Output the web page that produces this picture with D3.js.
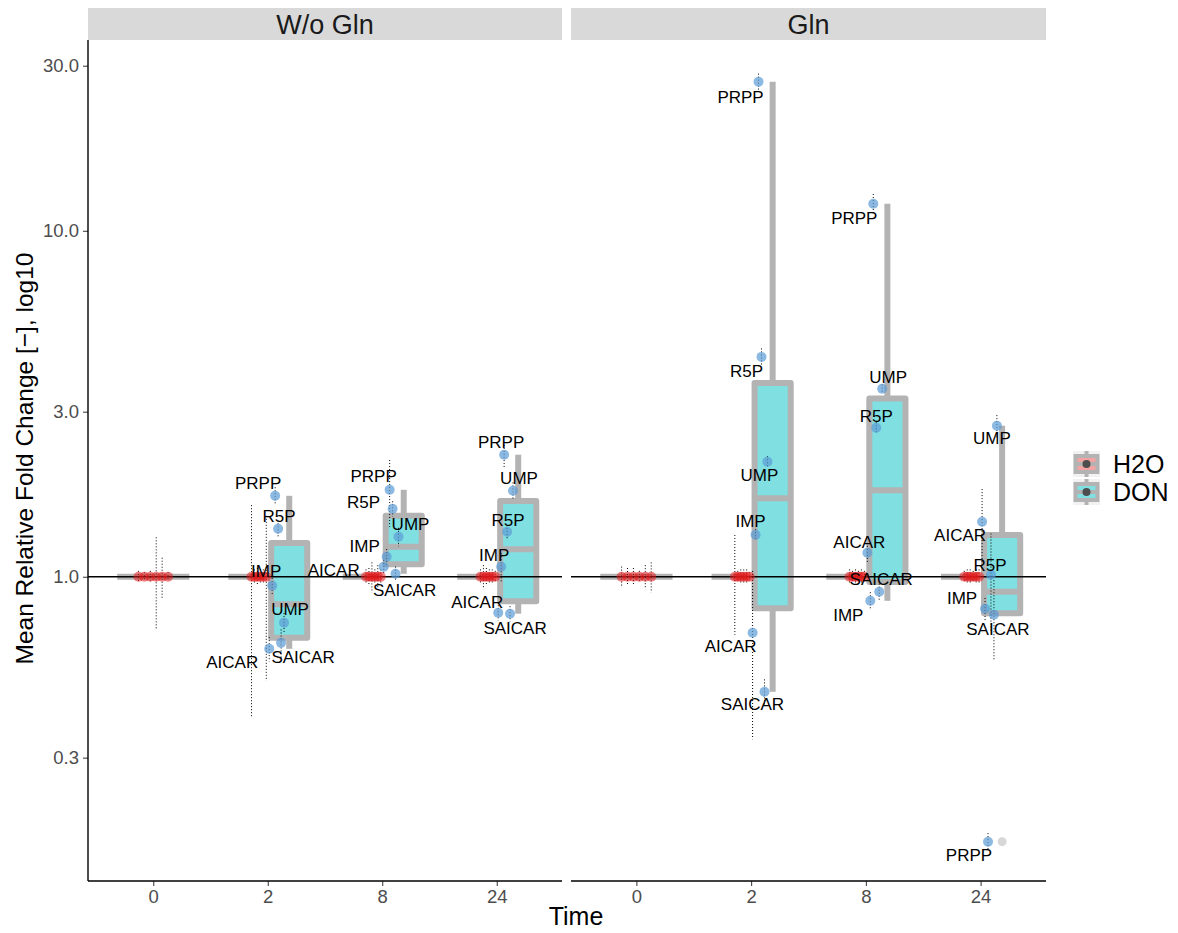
<!DOCTYPE html>
<html>
<head>
<meta charset="utf-8">
<script src="https://cdn.jsdelivr.net/npm/d3@7"></script>
<style>
  body { margin: 0; background: #fff; }
  text { font-family: "Liberation Sans", Arial, Helvetica, sans-serif; }
</style>
</head>
<body>
<svg id="chart" width="1178" height="933"></svg>
<script>
// ---- data -------------------------------------------------------------
const panels = ["W/o Gln", "Gln"];
const times = ["0", "2", "8", "24"];
const conditions = ["H2O", "DON"];
const metabolites = ["AICAR", "IMP", "PRPP", "R5P", "SAICAR", "UMP"];
const yTickValues = [0.3, 1, 3, 10, 30];
const yTickLabels = ["0.3", "1.0", "3.0", "10.0", "30.0"];

// DON mean relative fold change, rows = time 2, 8, 24; columns = metabolites
const donWoGln = [
  [0.619, 0.942, 1.714, 1.376, 0.644, 0.736],
  [1.069, 1.142, 1.784, 1.572, 1.020, 1.305],
  [0.787, 1.069, 2.253, 1.349, 0.782, 1.773]
];
const donGln = [
  [0.689, 1.322, 26.96, 4.320, 0.465, 2.149],
  [1.173, 0.852, 11.97, 2.696, 0.905, 3.494],
  [1.442, 0.808, 0.1715, 1.013, 0.777, 2.732]
];
// H2O controls are normalised to 1 at every time point
const h2oMean = 1.0;

// standard deviations (linear units); rows = time 0, 2, 8, 24
const h2oSdWoGln = [
  [0.04, 0.03, 0.04, 0.30, 0.135, 0.03],
  [0.61, 0.05, 0.06, 0.05, 0.05, 0.50],
  [0.05, 0.06, 0.10, 0.05, 0.08, 0.05],
  [0.05, 0.08, 0.06, 0.05, 0.05, 0.04]
];
const h2oSdGln = [
  [0.07, 0.06, 0.06, 0.04, 0.08, 0.10],
  [0.32, 0.04, 0.05, 0.05, 0.05, 0.03],
  [0.05, 0.04, 0.05, 0.04, 0.05, 0.04],
  [0.04, 0.05, 0.05, 0.04, 0.05, 0.05]
];
// rows = time 2, 8, 24
const donSdWoGln = [
  [0.05, 0.05, 0.10, 0.08, 0.06, 0.05],
  [0.05, 0.06, 0.39, 0.08, 0.05, 0.08],
  [0.04, 0.10, 0.20, 0.06, 0.04, 0.10]
];
const donSdGln = [
  [0.35, 0.05, 1.50, 0.25, 0.04, 0.08],
  [0.08, 0.05, 0.80, 0.10, 0.05, 0.10],
  [0.35, 0.06, 0.01, 0.32, 0.20, 0.20]
];

const donByPanel = [donWoGln, donGln];
const h2oSdByPanel = [h2oSdWoGln, h2oSdGln];
const donSdByPanel = [donSdWoGln, donSdGln];

// ---- label placement (pixel nudges from each point) --------------------
const labelNudge = {
  "0|2|PRPP": [-17, -13], "0|2|R5P": [1, -13], "0|2|IMP": [-6, -15],
  "0|2|UMP": [6, -14], "0|2|SAICAR": [22, 14], "0|2|AICAR": [-37, 13],
  "0|8|PRPP": [-16, -14], "0|8|R5P": [-29, -7], "0|8|UMP": [12, -13],
  "0|8|IMP": [-22, -11], "0|8|AICAR": [-50, 3], "0|8|SAICAR": [9, 16],
  "0|24|PRPP": [-3, -13], "0|24|UMP": [6, -13], "0|24|R5P": [1, -12],
  "0|24|IMP": [-7, -12], "0|24|AICAR": [-21, -11], "0|24|SAICAR": [5, 14],
  "1|2|PRPP": [-18, 15], "1|2|R5P": [-15, 14], "1|2|UMP": [-8, 13],
  "1|2|IMP": [-5, -14], "1|2|AICAR": [-22, 13], "1|2|SAICAR": [-12, 12],
  "1|8|PRPP": [-19, 14], "1|8|UMP": [6, -12], "1|8|R5P": [0, -12],
  "1|8|AICAR": [-8, -11], "1|8|SAICAR": [2, -13], "1|8|IMP": [-22, 14],
  "1|24|UMP": [-5, 12], "1|24|AICAR": [-22, 13], "1|24|R5P": [-1, -10],
  "1|24|IMP": [-23, -11], "1|24|SAICAR": [4, 14], "1|24|PRPP": [-19, 13]
};

// ---- layout -----------------------------------------------------------
const plotTop = 40, plotBottom = 881;
const panelRanges = [[88, 562], [571, 1046]];
const colors = {
  boxStroke: "#b3b3b3",
  donFill: "#7fdfe1",
  h2oFill: "#f4a3a3",
  h2oPoint: "#e31a1c",
  donPoint: "#5b9bd5",
  strip: "#d9d9d9",
  tickText: "#4d4d4d"
};

const svg = d3.select("#chart");
const y = d3.scaleLog().domain([0.132, 35.6]).range([plotBottom, plotTop]);

// Tukey box statistics on the log10 scale
function boxStats(values) {
  const logs = values.map(Math.log10).sort(d3.ascending);
  const q1 = d3.quantile(logs, 0.25), med = d3.quantile(logs, 0.5), q3 = d3.quantile(logs, 0.75);
  const iqr = q3 - q1;
  const inside = logs.filter(v => v >= q1 - 1.5 * iqr && v <= q3 + 1.5 * iqr);
  const out = logs.filter(v => v < q1 - 1.5 * iqr || v > q3 + 1.5 * iqr);
  const p = v => Math.pow(10, v);
  return { q1: p(q1), med: p(med), q3: p(q3), lo: p(d3.min(inside)), hi: p(d3.max(inside)), out: out.map(p) };
}

const layers = {};
["strip", "box", "err", "hline", "pt", "label", "axis"].forEach(k => layers[k] = svg.append("g"));

panels.forEach((panelName, pi) => {
  const [x0, x1] = panelRanges[pi];
  const x = d3.scalePoint().domain(times).range([x0, x1]).padding(0.57);
  const step = x.step();

  // facet strip
  layers.strip.append("rect").attr("x", x0).attr("y", 8).attr("width", x1 - x0).attr("height", 32)
    .attr("fill", colors.strip);
  layers.strip.append("text").attr("x", (x0 + x1) / 2).attr("y", 24).attr("dy", "0.36em")
    .attr("text-anchor", "middle").attr("font-size", 27).attr("fill", "#1a1a1a").text(panelName);

  times.forEach((t, ti) => {
    const conds = ti === 0 ? ["H2O"] : conditions;
    const nBox = conds.length;
    conds.forEach((cond, ci) => {
      const values = cond === "H2O" ? metabolites.map(() => h2oMean) : donByPanel[pi][ti - 1];
      const sds = cond === "H2O" ? h2oSdByPanel[pi][ti] : donSdByPanel[pi][ti - 1];

      // boxplot
      const slot = 0.75 * step / nBox;
      const cx = x(t) + (-0.5 + (ci + 0.5) / nBox) * 0.75 * step;
      const bw = slot * 0.84;
      const s = boxStats(values);
      const g = layers.box.append("g");
      g.append("line").attr("x1", cx).attr("x2", cx).attr("y1", y(s.q3)).attr("y2", y(s.hi))
        .attr("stroke", colors.boxStroke).attr("stroke-width", 6);
      g.append("line").attr("x1", cx).attr("x2", cx).attr("y1", y(s.q1)).attr("y2", y(s.lo))
        .attr("stroke", colors.boxStroke).attr("stroke-width", 6);
      g.append("rect").attr("x", cx - bw / 2).attr("y", y(s.q3)).attr("width", bw)
        .attr("height", Math.max(0, y(s.q1) - y(s.q3)))
        .attr("fill", cond === "H2O" ? colors.h2oFill : colors.donFill)
        .attr("stroke", colors.boxStroke).attr("stroke-width", 6).attr("stroke-linejoin", "round");
      g.append("line").attr("x1", cx - bw / 2).attr("x2", cx + bw / 2).attr("y1", y(s.med)).attr("y2", y(s.med))
        .attr("stroke", colors.boxStroke).attr("stroke-width", 6);
      s.out.forEach(o => g.append("circle").attr("cx", cx).attr("cy", y(o)).attr("r", 4.5)
        .attr("fill", "#bdbdbd").attr("fill-opacity", 0.6));

      // points, dodged by condition x metabolite
      const nGroups = nBox * metabolites.length;
      metabolites.forEach((m, mi) => {
        const gi = ci * metabolites.length + mi;
        const px = x(t) + (-0.5 + (gi + 0.5) / nGroups) * 0.31 * step;
        const v = values[mi], sd = sds[mi];
        const lo = Math.max(y.domain()[0], v - sd);
        layers.err.append("line").attr("x1", px).attr("x2", px).attr("y1", y(v + sd)).attr("y2", y(lo))
          .attr("stroke", "#000").attr("stroke-width", 1).attr("stroke-dasharray", "1,2");
        layers.pt.append("circle").attr("cx", px).attr("cy", y(v)).attr("r", 5)
          .attr("fill", cond === "H2O" ? colors.h2oPoint : colors.donPoint)
          .attr("fill-opacity", cond === "H2O" ? 0.55 : 0.7);
        if (cond === "DON") {
          const nudge = labelNudge[`${pi}|${t}|${m}`] || [0, -12];
          layers.label.append("text").attr("x", px + nudge[0]).attr("y", y(v) + nudge[1])
            .attr("dy", "0.35em").attr("text-anchor", "middle").attr("font-size", 17)
            .attr("fill", "#000").text(m);
        }
      });
    });
  });

  // reference line at fold change 1
  layers.hline.append("line").attr("x1", x0).attr("x2", x1).attr("y1", y(1)).attr("y2", y(1))
    .attr("stroke", "#000").attr("stroke-width", 1.6);

  // x axis
  const xAxis = layers.axis.append("g").attr("transform", `translate(0,${plotBottom})`)
    .call(d3.axisBottom(x).tickSizeOuter(0).tickSize(5).tickPadding(4));
  xAxis.select(".domain").remove();
  layers.axis.append("line").attr("x1", x0).attr("x2", x1).attr("y1", plotBottom).attr("y2", plotBottom)
    .attr("stroke", "#000").attr("stroke-width", 1.4);
  xAxis.selectAll(".tick line").attr("stroke", "#333");
  xAxis.selectAll(".tick text").attr("font-size", 18.5).attr("fill", colors.tickText)
    .attr("font-family", "Liberation Sans, Arial, sans-serif");
});

// y axis (left panel only)
const yAxis = layers.axis.append("g").attr("transform", `translate(${panelRanges[0][0]},0)`)
  .call(d3.axisLeft(y).tickValues(yTickValues).tickFormat((d, i) => yTickLabels[i])
    .tickSizeOuter(0).tickSize(5).tickPadding(4));
yAxis.select(".domain").remove();
layers.axis.append("line").attr("x1", panelRanges[0][0]).attr("x2", panelRanges[0][0])
  .attr("y1", plotTop).attr("y2", plotBottom).attr("stroke", "#000").attr("stroke-width", 1.4);
yAxis.selectAll(".tick line").attr("stroke", "#333");
yAxis.selectAll(".tick text").attr("font-size", 18.5).attr("fill", colors.tickText)
  .attr("font-family", "Liberation Sans, Arial, sans-serif");

// axis titles
svg.append("text").attr("x", 576).attr("y", 925).attr("text-anchor", "middle")
  .attr("font-size", 25).attr("fill", "#000").text("Time");
svg.append("text").attr("transform", `translate(33,${(plotTop + plotBottom) / 2 - 2}) rotate(-90)`)
  .attr("text-anchor", "middle").attr("font-size", 24.5).attr("fill", "#000")
  .text("Mean Relative Fold Change [\u2212], log10");

// legend
const legend = svg.append("g").attr("transform", "translate(1073,451)");
conditions.forEach((cond, i) => {
  const g = legend.append("g").attr("transform", `translate(0,${i * 28})`);
  g.append("rect").attr("x", 0).attr("y", 0).attr("width", 27).attr("height", 26).attr("fill", "#f2f2f2");
  g.append("line").attr("x1", 13.5).attr("x2", 13.5).attr("y1", 0).attr("y2", 26)
    .attr("stroke", colors.boxStroke).attr("stroke-width", 4);
  g.append("rect").attr("x", 2.5).attr("y", 5).attr("width", 22).attr("height", 16)
    .attr("fill", cond === "H2O" ? colors.h2oFill : colors.donFill)
    .attr("stroke", colors.boxStroke).attr("stroke-width", 4);
  g.append("line").attr("x1", 2.5).attr("x2", 24.5).attr("y1", 13).attr("y2", 13)
    .attr("stroke", colors.boxStroke).attr("stroke-width", 4);
  g.append("circle").attr("cx", 13.5).attr("cy", 13).attr("r", 4).attr("fill", "#4d4d4d");
  g.append("text").attr("x", 40).attr("y", 13).attr("dy", "0.36em").attr("font-size", 25)
    .attr("fill", "#000").text(cond);
});
</script>
</body>
</html>
